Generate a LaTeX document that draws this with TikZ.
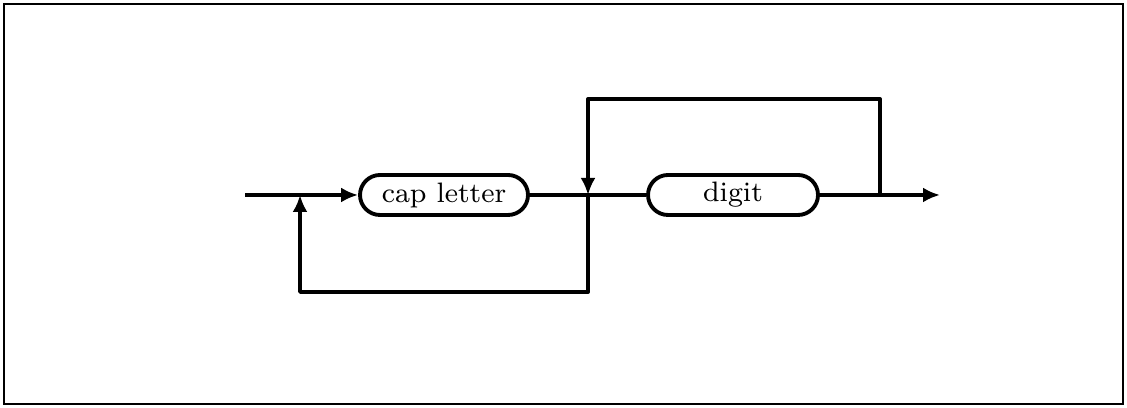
\documentclass[tikz,border=0pt]{standalone}
\usepackage{tikz}
\usetikzlibrary{arrows.meta, positioning}

\tikzset{
    flow/.style={line width=1.1pt, line join=round},
    tipflow/.style={flow, -{Latex[length=1.7mm,width=1.5mm]}},
    syntbox/.style={draw, line width=1.1pt, rectangle, rounded corners=0.2cm,
        minimum width=1.68cm, minimum height=0.4cm, inner sep=0pt,
        font=\footnotesize}
}

\begin{document}
\begin{tikzpicture}
    % Frame
    \useasboundingbox (0,0) rectangle (11.27,4.08);
    \draw[line width=0.8pt] (0.04,0.04) rectangle (11.23,4.04);

    % Junction points on the main line
    \coordinate (start) at (2.45,2.13);
    \coordinate (join1) at (3.00,2.13);
    \coordinate (join2) at (5.88,2.13);
    \coordinate (join3) at (8.80,2.13);
    \coordinate (finish) at (9.40,2.13);

    % Loop corners
    \coordinate (low1) at (3.00,1.16);
    \coordinate (low2) at (5.88,1.16);
    \coordinate (high1) at (5.88,3.09);
    \coordinate (high2) at (8.80,3.09);

    % Boxes
    \node[syntbox] (capletter) at (4.44,2.13) {cap letter};
    \node[syntbox, minimum width=1.70cm] (digit) at (7.33,2.13) {digit};

    % Main line
    \draw[tipflow] (start) -- (capletter.west);
    \draw[flow] (capletter.east) -- (join2) -- (digit.west);
    \draw[tipflow] (digit.east) -- (finish);

    % Repeat loops
    \draw[tipflow] (join2) -- (low2) -- (low1) -- (join1);
    \draw[tipflow] (join3) -- (high2) -- (high1) -- (join2);
\end{tikzpicture}
\end{document}
